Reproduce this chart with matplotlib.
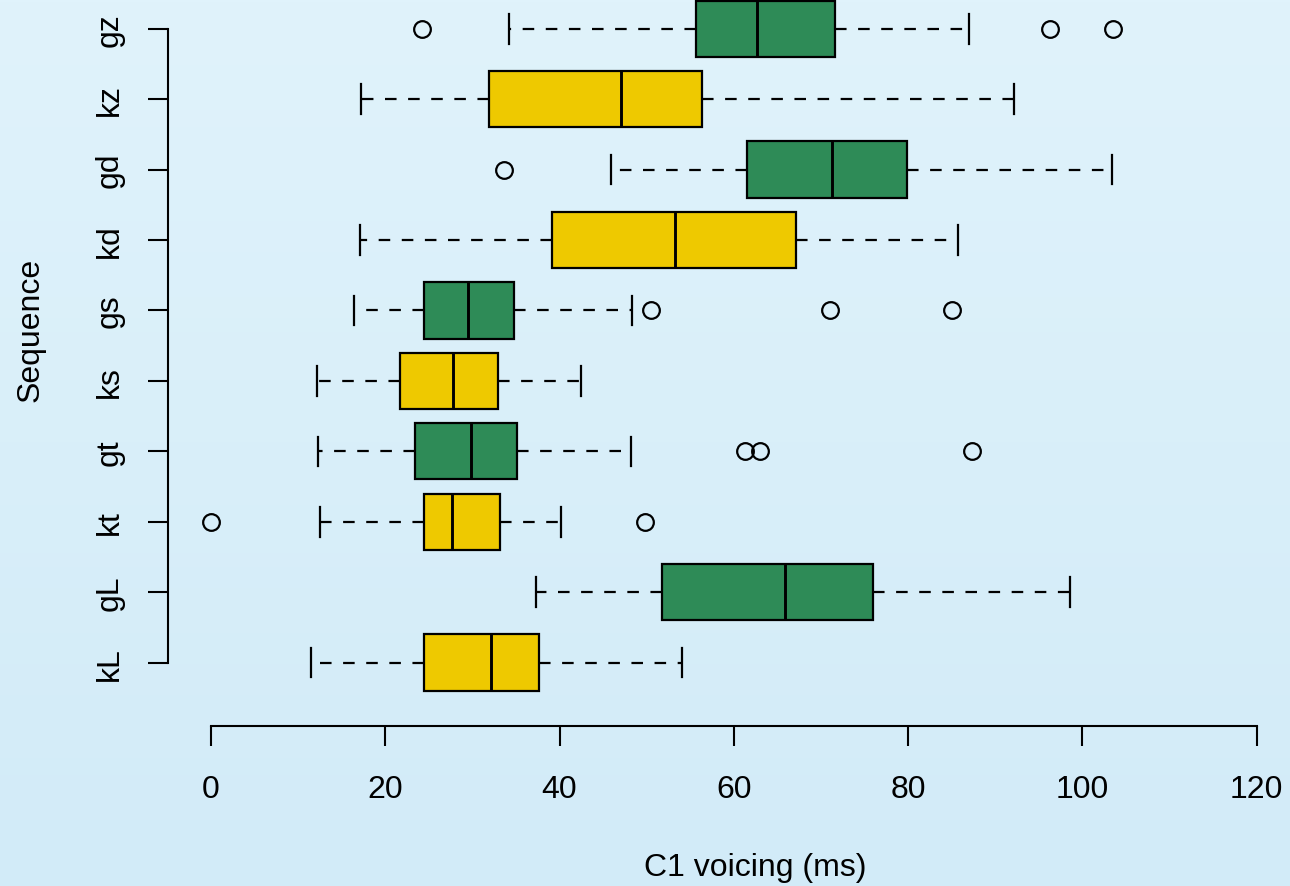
import numpy as np
import matplotlib
matplotlib.use("Agg")
import matplotlib.pyplot as plt

# sequences, bottom to top
labels = ['kL', 'gL', 'kt', 'gt', 'ks', 'gs', 'kd', 'gd', 'kz', 'gz']
whislo = [11.5, 37.3, 12.5, 12.3, 12.2, 16.4, 17.1, 45.9, 17.2, 34.2]
q1 = [24.5, 51.7, 24.5, 23.45, 21.7, 24.45, 39.1, 61.5, 31.9, 55.66]
med = [32.1, 65.9, 27.7, 29.8, 27.8, 29.5, 53.3, 71.3, 47.05, 62.66]
q3 = [37.6, 76.0, 33.2, 35.1, 32.95, 34.8, 67.1, 79.9, 56.4, 71.65]
whishi = [54.0, 98.6, 40.2, 48.2, 42.5, 48.3, 85.7, 103.4, 92.2, 87.0]
fliers = [[], [], [0.0, 49.8], [61.3, 63.0, 87.3], [], [50.5, 71.0, 85.0],
          [], [33.6], [], [24.2, 96.3, 103.5]]

green = '#2E8B57'
yellow = '#EEC900'
colors = [yellow if s[0] == 'k' else green for s in labels]

plt.rcParams['font.family'] = ['Liberation Sans', 'DejaVu Sans']

W, H = 1290, 887
fig = plt.figure(figsize=(W / 100, H / 100), dpi=100)

# background gradient
bg = fig.add_axes([0, 0, 1, 1], zorder=-10)
grad = np.linspace(0, 1, 256).reshape(-1, 1)
top = np.array([0xE0, 0xF3, 0xFB]) / 255
bot = np.array([0xD2, 0xEB, 0xF8]) / 255
img = top[None, None, :] * (1 - grad[:, :, None]) + bot[None, None, :] * grad[:, :, None]
bg.imshow(img, aspect='auto', extent=[0, 1, 0, 1])
bg.axis('off')

# plot region in pixels: x 168..1270, y 0..727
ax = fig.add_axes([168 / W, (H - 727) / H, (1270 - 168) / W, 727 / H])
ax.patch.set_alpha(0)

stats = []
for i in range(len(labels)):
    stats.append(dict(med=med[i], q1=q1[i], q3=q3[i], whislo=whislo[i],
                      whishi=whishi[i], fliers=fliers[i], label=labels[i]))

lw = 1.6
bp = ax.bxp(stats, positions=np.arange(1, 11), vert=False, widths=0.8,
            patch_artist=True, manage_ticks=False,
            boxprops=dict(linewidth=lw, edgecolor='black'),
            medianprops=dict(color='black', linewidth=2.1),
            whiskerprops=dict(color='black', linewidth=lw, linestyle=(0, (5.2, 5.2))),
            capprops=dict(color='black', linewidth=lw),
            flierprops=dict(marker='o', markersize=12, markerfacecolor='none',
                            markeredgecolor='black', markeredgewidth=1.6))
for patch, c in zip(bp['boxes'], colors):
    patch.set_facecolor(c)
for cap in bp['caps']:
    # R staples are half the box width
    y = cap.get_ydata()
    mid = np.mean(y)
    cap.set_ydata([mid - 0.21, mid + 0.21])

ax.set_xlim((168 - 211) / 8.714, (1270 - 211) / 8.714)
ax.set_ylim(0.1, 10 + 29.7 / 70.37)

ax.set_xticks([0, 20, 40, 60, 80, 100, 120])
ax.set_yticks(np.arange(1, 11))
ax.set_yticklabels(labels, rotation=90, va='center')

for s in ['top', 'right']:
    ax.spines[s].set_visible(False)
ax.spines['bottom'].set_bounds(0, 120)
ax.spines['left'].set_bounds(1, 10)
for s in ['bottom', 'left']:
    ax.spines[s].set_linewidth(1.5)

ax.tick_params(axis='x', length=14.4, width=1.5, pad=20, labelsize=23)
ax.tick_params(axis='y', length=14.4, width=1.5, pad=17, labelsize=23)

fig.text(755 / W, 1 - 868 / H, 'C1 voicing (ms)', ha='center', va='center', fontsize=23)
fig.text(31 / W, 1 - 330 / H, 'Sequence', ha='center', va='center', rotation=90, fontsize=23)

fig.savefig('out.png', dpi=100)
